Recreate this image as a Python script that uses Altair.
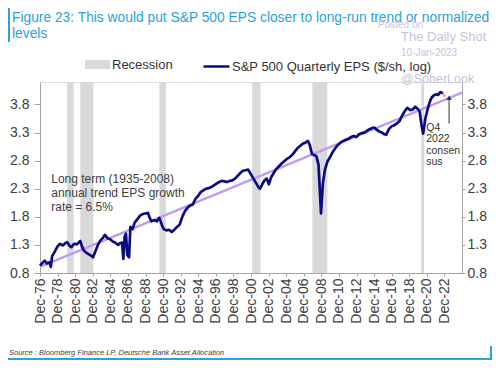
import altair as alt
import pandas as pd

# ---------------- data ----------------
title_lines = ["Figure 23: This would put S&P 500 EPS closer to long-run trend or normalized",
               "levels"]
source_text = "Source : Bloomberg Finance LP, Deutsche Bank Asset Allocation"
series_name = "S&P 500 Quarterly EPS ($/sh, log)"
recession_name = "Recession"

eps_years = [1976.92, 1977.2, 1977.45, 1977.7, 1978.0, 1978.15, 1978.3, 1978.6, 1978.9,
             1979.2, 1979.5, 1979.8, 1980.0, 1980.3, 1980.5, 1980.8, 1981.1, 1981.3,
             1981.5, 1981.7, 1981.9, 1982.2, 1982.5, 1982.8, 1982.95, 1983.2, 1983.5,
             1983.8, 1984.1, 1984.3, 1984.6, 1984.9, 1985.2, 1985.5, 1985.8, 1986.0,
             1986.25, 1986.4, 1986.55, 1986.7, 1986.85, 1987.05, 1987.2, 1987.45, 1987.7,
             1988.0, 1988.3, 1988.6, 1988.9, 1989.2, 1989.4, 1989.6, 1989.9, 1990.2,
             1990.5, 1990.8, 1991.0, 1991.3, 1991.6, 1991.9, 1992.2, 1992.5, 1992.8,
             1993.1, 1993.4, 1993.7, 1994.0, 1994.3, 1994.6, 1994.9, 1995.2, 1995.5,
             1995.8, 1996.1, 1996.4, 1996.7, 1997.0, 1997.3, 1997.6, 1997.9, 1998.2,
             1998.5, 1998.8, 1999.1, 1999.4, 1999.7, 2000.0, 2000.3, 2000.6, 2000.9,
             2001.2, 2001.5, 2001.8, 2001.95, 2002.2, 2002.45, 2002.7, 2002.95, 2003.2,
             2003.5, 2003.8, 2004.1, 2004.4, 2004.7, 2005.0, 2005.3, 2005.6, 2005.9,
             2006.2, 2006.5, 2006.8, 2007.1, 2007.4, 2007.6, 2007.85, 2008.1, 2008.35,
             2008.6, 2008.88, 2009.1, 2009.35, 2009.6, 2009.9, 2010.2, 2010.5, 2010.8,
             2011.1, 2011.4, 2011.7, 2012.0, 2012.3, 2012.6, 2012.9, 2013.2, 2013.5,
             2013.8, 2014.1, 2014.4, 2014.7, 2014.95, 2015.2, 2015.5, 2015.8, 2016.1,
             2016.3, 2016.6, 2016.9, 2017.2, 2017.5, 2017.8, 2018.1, 2018.4, 2018.7,
             2019.0, 2019.3, 2019.6, 2019.9, 2020.1, 2020.3, 2020.5, 2020.75, 2020.95,
             2021.2, 2021.45, 2021.7, 2021.95, 2022.2, 2022.45, 2022.75]
eps_values = [0.93, 0.98, 1.02, 0.97, 0.99, 0.91, 1.10, 1.18, 1.27,
              1.32, 1.29, 1.33, 1.35, 1.28, 1.26, 1.32, 1.31, 1.34,
              1.37, 1.27, 1.20, 1.16, 1.13, 1.10, 1.08, 1.18, 1.30,
              1.38, 1.43, 1.48, 1.42, 1.40, 1.36, 1.34, 1.30, 1.33,
              1.34, 1.05, 1.45, 1.50, 1.12, 1.08, 1.62, 1.58, 1.70,
              1.76, 1.82, 1.85, 1.86, 1.87, 1.78, 1.72, 1.74, 1.72,
              1.78, 1.65, 1.58, 1.56, 1.57, 1.53, 1.57, 1.62, 1.66,
              1.80, 1.90, 1.96, 2.00, 2.02, 2.12, 2.17, 2.24, 2.27,
              2.30, 2.31, 2.33, 2.36, 2.39, 2.42, 2.44, 2.43, 2.42,
              2.44, 2.45, 2.48, 2.53, 2.58, 2.62, 2.63, 2.64, 2.56,
              2.48, 2.40, 2.32, 2.30, 2.38, 2.45, 2.48, 2.38, 2.50,
              2.58, 2.65, 2.70, 2.75, 2.79, 2.83, 2.86, 2.90, 2.96,
              3.02, 3.06, 3.10, 3.12, 3.15, 3.08, 2.92, 2.90, 2.88,
              2.73, 1.86, 2.40, 2.65, 2.78, 2.86, 2.95, 3.02, 3.08,
              3.12, 3.15, 3.17, 3.19, 3.22, 3.24, 3.22, 3.27, 3.29,
              3.30, 3.33, 3.36, 3.38, 3.39, 3.35, 3.32, 3.30, 3.27,
              3.26, 3.36, 3.41, 3.43, 3.46, 3.50, 3.60, 3.68, 3.74,
              3.70, 3.71, 3.76, 3.72, 3.68, 3.45, 3.28, 3.55, 3.68,
              3.82, 3.92, 3.96, 3.98, 3.97, 4.02, 4.00]

consensus_years = [2022.75, 2023.0]
consensus_values = [4.00, 3.94]

trend_years = [1976.92, 2024.92]
trend_values = [0.91, 4.01]

rec_start = [1980.0, 1981.5, 1990.5, 2001.05, 2007.9, 2020.3]
rec_end = [1980.75, 1983.0, 1991.25, 2002.0, 2009.6, 2020.6]

x_tick_years = [1976.92, 1978.92, 1980.92, 1982.92, 1984.92, 1986.92, 1988.92, 1990.92,
                1992.92, 1994.92, 1996.92, 1998.92, 2000.92, 2002.92, 2004.92, 2006.92,
                2008.92, 2010.92, 2012.92, 2014.92, 2016.92, 2018.92, 2020.92, 2022.92]
y_ticks = [0.8, 1.3, 1.8, 2.3, 2.8, 3.3, 3.8]

trend_note = ["Long term (1935-2008)", "annual trend EPS growth", "rate = 6.5%"]
q4_note = ["Q4", "2022", "consen", "sus"]

# ---------------- styling ----------------
FONT = "Liberation Sans"
W, H = 422, 191
BLUE = "#29a3dc"
NAVY = "#0c0c82"
AXIS_GREY = "#a6a6a6"
TEXT = "#404040"
WM = "#c6c3dc"

xscale = alt.Scale(domain=[1976.92, 2024.92], nice=False, zero=False)
yscale = alt.Scale(domain=[0.8, 4.2], nice=False, zero=False)

xaxis = alt.Axis(values=x_tick_years, labelExpr="'Dec-' + slice(toString(floor(datum.value)), 2)",
                 labelAngle=-90, labelAlign="right", labelBaseline="middle",
                 labelFont=FONT, labelFontSize=14, labelColor=TEXT, labelPadding=2,
                 tickSize=3, tickColor=AXIS_GREY, domainColor=AXIS_GREY, grid=False,
                 title=None, labelOverlap=False)
yaxis_left = alt.Axis(values=y_ticks, format=".1f", orient="left", labelFont=FONT,
                      labelFontSize=14, labelColor=TEXT, labelPadding=5, tickSize=6,
                      tickColor=AXIS_GREY, domainColor=AXIS_GREY, grid=False, title=None)
yaxis_right = alt.Axis(values=y_ticks, format=".1f", orient="right", labelFont=FONT,
                       labelFontSize=14, labelColor=TEXT, labelPadding=2, tickSize=3,
                       tickColor=AXIS_GREY, domainColor=AXIS_GREY, grid=False, title=None)

eps_df = pd.DataFrame({"year": eps_years, "eps": eps_values, "series": series_name})
cons_df = pd.DataFrame({"year": consensus_years, "eps": consensus_values})
trend_df = pd.DataFrame({"year": trend_years, "eps": trend_values})
rec_df = pd.DataFrame({"start": rec_start, "end": rec_end, "label": recession_name})

X = lambda f: alt.X(f, type="quantitative", scale=xscale, axis=xaxis)

rec = alt.Chart(rec_df).mark_rect(color="#d9d9d9").encode(
    x=X("start"), x2="end",
    fill=alt.Fill("label:N", scale=alt.Scale(domain=[recession_name], range=["#d9d9d9"]),
                  legend=alt.Legend(title=None, orient="none", legendX=45, legendY=-30,
                                    symbolType="M-1,-0.36L1,-0.36L1,0.36L-1,0.36Z",
                                    symbolSize=625, symbolStrokeWidth=0,
                                    labelFont=FONT, labelFontSize=13, labelColor="#333333",
                                    labelOffset=2, padding=0, labelLimit=300)),
)

trend = alt.Chart(trend_df).mark_line(color="#bf9cf0", strokeWidth=2.5).encode(
    x=X("year"), y=alt.Y("eps:Q", scale=yscale, axis=yaxis_right)
)

eps = alt.Chart(eps_df).mark_line(strokeWidth=2.7, strokeJoin="round").encode(
    x=X("year"), y=alt.Y("eps:Q", scale=yscale, axis=yaxis_left),
    stroke=alt.Stroke("series:N", scale=alt.Scale(domain=[series_name], range=[NAVY]),
                      legend=alt.Legend(title=None, orient="none", legendX=162, legendY=-30,
                                        symbolType="stroke", symbolSize=676,
                                        symbolStrokeWidth=2.5, labelFont=FONT,
                                        labelFontSize=13, labelColor="#333333",
                                        labelOffset=1, padding=0, labelLimit=300)),
)

cons = alt.Chart(cons_df).mark_line(color="#f2a65a", strokeWidth=2.5).encode(
    x=X("year"), y=alt.Y("eps:Q", scale=yscale, axis=None)
)

note_df = pd.DataFrame({"year": [1978.2], "eps": [2.4]})
note = alt.Chart(note_df).mark_text(align="left", baseline="alphabetic", font=FONT,
                                     fontSize=12, lineHeight=14, color=TEXT).encode(
    x=X("year"), y=alt.Y("eps:Q", scale=yscale, axis=None), text=alt.value(trend_note)
)

q4_df = pd.DataFrame({"year": [2020.85], "eps": [3.33]})
q4 = alt.Chart(q4_df).mark_text(align="left", baseline="alphabetic", font=FONT,
                                 fontSize=10.5, lineHeight=11.5, color="#333333").encode(
    x=X("year"), y=alt.Y("eps:Q", scale=yscale, axis=None), text=alt.value(q4_note)
)

arrow_df = pd.DataFrame({"year": [2023.45], "y1": [3.46], "y2": [3.92]})
arrow_line = alt.Chart(arrow_df).mark_rule(color="#333333", strokeWidth=1).encode(
    x=X("year"), y=alt.Y("y1:Q", scale=yscale, axis=None), y2="y2"
)
arrow_head = alt.Chart(arrow_df).mark_point(shape="triangle-up", filled=True, size=28,
                                            color="#333333", opacity=1).encode(
    x=X("year"), y=alt.Y("y2:Q", scale=yscale, axis=None)
)

one = pd.DataFrame({"k": [0]})

def txt(text, x, y, size, color, align="left", baseline="alphabetic", style="normal", lh=None):
    kw = dict(align=align, baseline=baseline, font=FONT, fontSize=size, color=color,
              fontStyle=style)
    if lh is not None:
        kw["lineHeight"] = lh
    return alt.Chart(one).mark_text(**kw).encode(
        x=alt.value(x), y=alt.value(y), text=alt.value(text))

title = txt(title_lines, -28, -60, 13.8, BLUE, lh=15.5)
source = txt(source_text, -31, 271, 7.5, TEXT, style="italic", baseline="middle")
wm1 = txt("Posted on", 338, -57, 10, WM, baseline="middle")
wm2 = txt("The Daily Shot", 361, -45, 13, WM, baseline="middle")
wm3 = txt("10-Jan-2023", 361, -29, 10, WM, baseline="middle")
wm4 = txt("@SoberLook", 361, -3, 12.5, WM, baseline="middle")

def rule(x1, x2, y1, y2, color, width):
    return alt.Chart(one).mark_rule(color=color, strokeWidth=width).encode(
        x=alt.value(x1), x2=alt.value(x2), y=alt.value(y1), y2=alt.value(y2))

frame_bottom = rule(-32, 451, 277, 277, BLUE, 2)
frame_right = rule(451, 451, 264, 278, BLUE, 2)
frame_left = rule(-31, -31, -74, -40, BLUE, 2)

chart = alt.layer(
    rec, trend, eps, cons, note, q4, arrow_line, arrow_head,
    title, source, wm1, wm2, wm3, wm4,
    frame_bottom, frame_right, frame_left,
).resolve_axis(y="independent").resolve_scale(y="shared").properties(
    width=W, height=H,
    autosize=alt.AutoSizeParams(type="none"),
    padding={"left": 32, "top": 74, "right": 30, "bottom": 87},
).configure_view(stroke=None).configure(background="white")

chart.save("out.html", embed_options={"renderer": "svg", "actions": False})
